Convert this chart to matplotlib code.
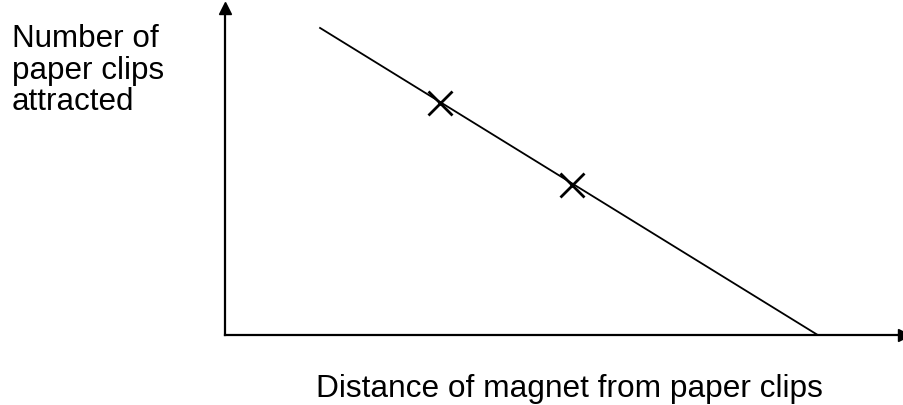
import matplotlib.pyplot as plt

plt.rcParams['font.family'] = ['Liberation Sans', 'DejaVu Sans']

# Trend line (arbitrary units, no scale on the original sketch)
line_x = [1.4, 8.73]
line_y = [9.39, 0.0]

# Plotted measurements
cross_x = [3.17, 5.11]
cross_y = [7.1, 4.6]

ylabel_lines = ['Number of', 'paper clips', 'attracted']
xlabel = 'Distance of magnet from paper clips'

fig = plt.figure(figsize=(9.04, 4.05), dpi=100)
ax = fig.add_axes([225 / 904, (405 - 335) / 405, (904 - 225) / 904, (335 - 8) / 405])
ax.set_xlim(0, 10)
ax.set_ylim(0, 10)

ax.plot(line_x, line_y, color='black', lw=1.3)
ax.plot(cross_x, cross_y, ls='none', marker='x', color='black', ms=17, mew=2)

# Axes as plain arrows
for side in ['top', 'right']:
    ax.spines[side].set_visible(False)
for side in ['left', 'bottom']:
    ax.spines[side].set_linewidth(1.6)
ax.set_xticks([])
ax.set_yticks([])
ax.plot(1, 0, '>k', ms=9, transform=ax.transAxes, clip_on=False)
ax.plot(0, 1, '^k', ms=9, transform=ax.transAxes, clip_on=False)

# left label, one text per line so the spacing matches
for i, txt in enumerate(ylabel_lines):
    fig.text(12 / 904, 1 - (47 + 31.5 * i) / 405, txt, fontsize=22.6,
             ha='left', va='baseline')
fig.text(316 / 904, 1 - 397 / 405, xlabel, fontsize=22.8, ha='left', va='baseline')

fig.savefig('out.png', dpi=100)
